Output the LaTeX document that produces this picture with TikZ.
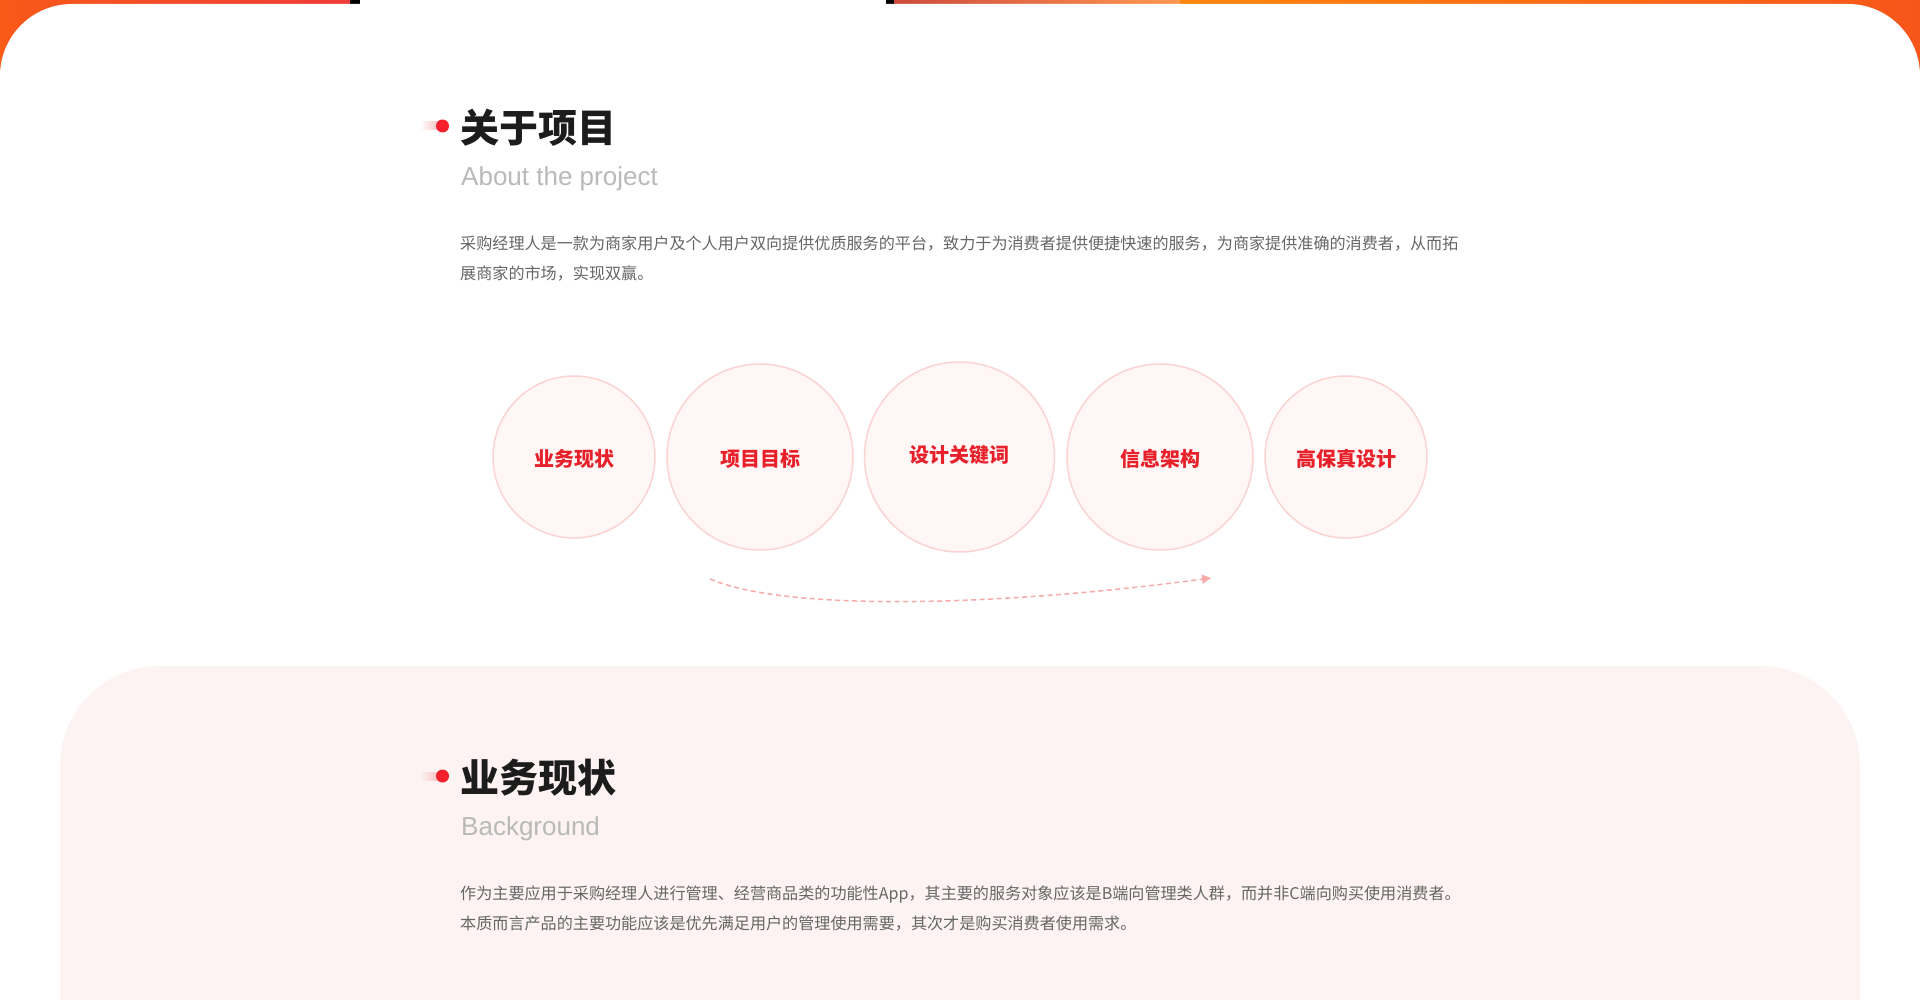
\documentclass[tikz,border=0pt]{standalone}
\usepackage{fontspec}
\setmainfont{Noto Sans CJK SC}
\newfontfamily\latinfont{Liberation Sans}
\usetikzlibrary{arrows.meta}
\definecolor{bandA}{HTML}{F85A18}
\definecolor{bandB}{HTML}{EF3C3A}
\definecolor{bandC}{HTML}{CC4A3C}
\definecolor{bandD}{HTML}{FF9852}
\definecolor{bandE}{HTML}{FF8510}
\definecolor{bandF}{HTML}{F7561A}
\definecolor{titleblack}{HTML}{1C1C1C}
\definecolor{subgray}{HTML}{B9B9B9}
\definecolor{paragray}{HTML}{666666}
\definecolor{circfill}{HTML}{FFF6F6}
\definecolor{circline}{HTML}{FCD3D3}
\definecolor{circtext}{HTML}{E8202A}
\definecolor{dotred}{HTML}{F5222D}
\definecolor{tailpink}{HTML}{F8B8B8}
\definecolor{secpink}{HTML}{FDF3F3}
\definecolor{arrowpink}{HTML}{F7AAAA}
\tikzset{
  headtitle/.style={anchor=base west, inner sep=0pt, text=titleblack, font=\fontsize{39}{46}\selectfont\bfseries},
  subtitle/.style={anchor=base west, inner sep=0pt, text=subgray, font=\latinfont\fontsize{26}{30}\selectfont},
  paraline/.style={anchor=base west, inner sep=0pt, text=paragray, font=\fontsize{16.1}{20}\selectfont},
  bubble/.style={circle, draw=circline, fill=circfill, line width=1.5pt, inner sep=0pt},
  bubbletext/.style={inner sep=0pt, text=circtext, font=\fontsize{20}{24}\selectfont\bfseries},
  reddot/.style={circle, fill=dotred, inner sep=0pt, minimum size=13pt},
  flowarrow/.style={draw=arrowpink, line width=1.5pt, dash pattern=on 5pt off 3.5pt, -{Triangle[length=9pt,width=9pt]}}
}
\begin{document}
\begin{tikzpicture}[x=1pt,y=-1pt]
\useasboundingbox (0,0) rectangle (1920,1000);
% top band
\shade[left color=bandA, right color=bandB] (0,0) rectangle (352,100);
\shade[left color=bandC, right color=bandD] (890,0) rectangle (1180,100);
\shade[left color=bandE, right color=bandF] (1180,0) rectangle (1920,100);
\fill[black] (350,0) rectangle (360,4);
\fill[black] (886,0) rectangle (894,4);
% white card with rounded top corners
\fill[white] (0,1000) -- (0,76) arc[start angle=180, end angle=90, radius=72pt]
  -- (1848,4) arc[start angle=90, end angle=0, radius=72pt] -- (1920,1000) -- cycle;
% pink section
\fill[secpink] (60,1000) -- (60,766) arc[start angle=180, end angle=90, radius=100pt]
  -- (1760,666) arc[start angle=90, end angle=0, radius=100pt] -- (1860,1000) -- cycle;

% section 1 heading
\shade[left color=white, right color=tailpink] (420,122) rectangle (442,130);
\node[reddot] (dot1) at (442.5,126) {};
\node[headtitle] (h1) at (460,142.5) {关于项目};
\node[subtitle] (s1) at (461,185.5) {About the project};
\node[paraline] (p1a) at (460,249.5) {采购经理人是一款为商家用户及个人用户双向提供优质服务的平台，致力于为消费者提供便捷快速的服务，为商家提供准确的消费者，从而拓};
\node[paraline] (p1b) at (460,279.5) {展商家的市场，实现双赢。};

% bubbles
\node[bubble, minimum size=162pt] (c1) at (574,457) {};
\node[bubble, minimum size=186pt] (c2) at (760,457) {};
\node[bubble, minimum size=190pt] (c3) at (959.5,457) {};
\node[bubble, minimum size=186pt] (c4) at (1160,457) {};
\node[bubble, minimum size=162pt] (c5) at (1346,457) {};
\node[bubbletext] (t1) at (574,458.5) {业务现状};
\node[bubbletext] (t2) at (760,458.5) {项目目标};
\node[bubbletext] (t3) at (959.5,454.5) {设计关键词};
\node[bubbletext] (t4) at (1160,458.5) {信息架构};
\node[bubbletext] (t5) at (1346,458.5) {高保真设计};

% flow arrow
\coordinate (a1) at (710,579);
\coordinate (a2) at (1211,578);
\draw[flowarrow] (a1) .. controls (790,613) and (1010,605) .. (a2);

% section 2 heading
\shade[left color=secpink, right color=tailpink] (420,772) rectangle (442,780);
\node[reddot] (dot2) at (442.5,776) {};
\node[headtitle] (h2) at (460,792.5) {业务现状};
\node[subtitle] (s2) at (461,835.5) {Background};
\node[paraline] (p2a) at (460,899.5) {作为主要应用于采购经理人进行管理、经营商品类的功能性App，其主要的服务对象应该是B端向管理类人群，而并非C端向购买使用消费者。};
\node[paraline] (p2b) at (460,929.5) {本质而言产品的主要功能应该是优先满足用户的管理使用需要，其次才是购买消费者使用需求。};
\end{tikzpicture}
\end{document}
